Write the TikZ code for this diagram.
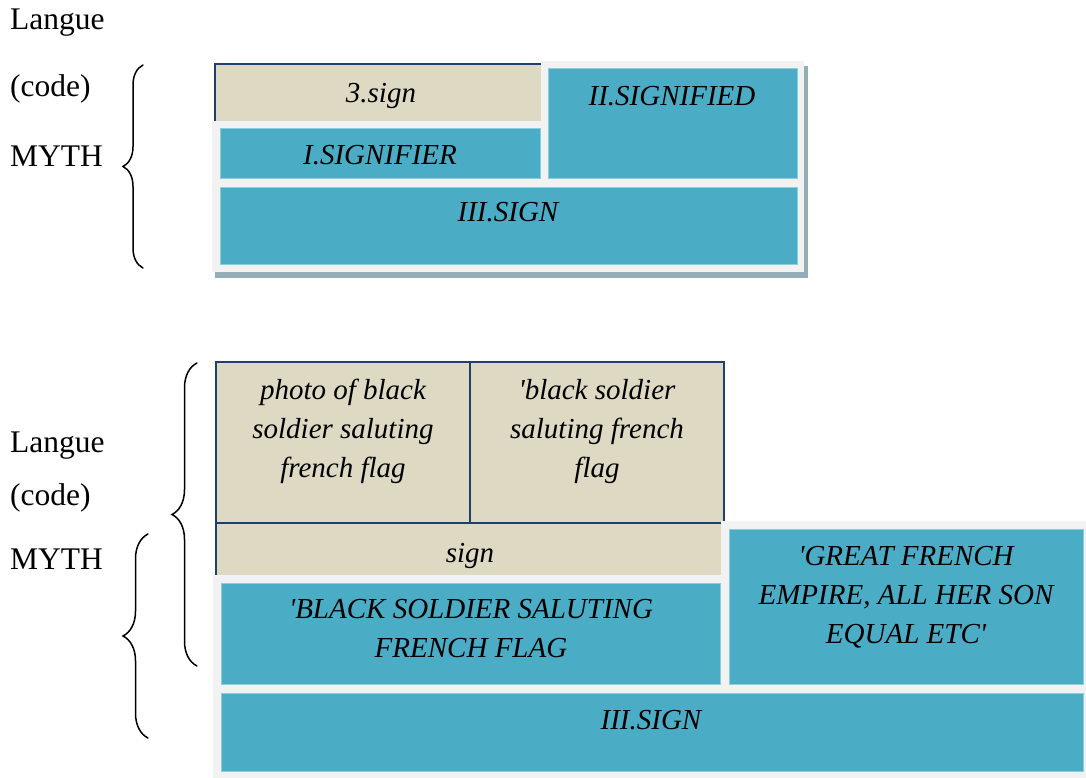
\documentclass[tikz,border=0pt]{standalone}
\usepackage{fontspec}
\setmainfont{Liberation Serif}
\usetikzlibrary{decorations.pathreplacing}
\definecolor{tealc}{HTML}{4BACC6}
\definecolor{tealedge}{HTML}{8CCDDD}
\definecolor{beigec}{HTML}{DDD9C3}
\definecolor{panelc}{HTML}{F2F2F2}
\definecolor{navyc}{HTML}{1F3F6E}
\definecolor{shadec}{HTML}{93AEB9}
\newcommand{\sq}{\textquotesingle}
\begin{document}
\begin{tikzpicture}[x=1pt,y=-1pt,
  rbox/.style={inner sep=0pt,outer sep=0pt,anchor=north west,rectangle},
  shadowbox/.style={rbox,fill=shadec},
  panelbox/.style={rbox,fill=panelc},
  beigefill/.style={rbox,fill=beigec},
  beigebox/.style={rbox,fill=beigec,draw=navyc,line width=1.8pt},
  navyline/.style={draw=navyc,line width=1.8pt},
  tealbox/.style={rbox,fill=tealc,draw=tealedge,line width=0.8pt},
  lbl/.style={inner sep=0pt,anchor=base west,font=\fontsize{31.5}{31.5}\selectfont},
  itx/.style={inner sep=0pt,anchor=base,align=center,font=\fontsize{29}{39}\selectfont\itshape},
  bracestyle/.style={decorate,line width=1.5pt,line cap=round}
]
\useasboundingbox (0,0) rectangle (1086,778);

% ---------- top diagram ----------
\node[shadowbox,minimum width=593pt,minimum height=212pt] (shd) at (215,66) {};
\node[beigefill,minimum width=326pt,minimum height=57pt] (s3) at (215,64) {};
\draw[navyline] (s3.south west) -- (s3.north west) -- (s3.north east);
\node[panelbox,minimum width=263pt,minimum height=126pt] (p2) at (541,61) {};
\node[panelbox,minimum width=592pt,minimum height=151pt] (p1) at (212,121) {};
\node[tealbox,minimum width=320pt,minimum height=50pt] (sig1) at (220,128) {};
\node[tealbox,minimum width=249pt,minimum height=110pt] (sig2) at (548,68) {};
\node[tealbox,minimum width=577pt,minimum height=77pt] (sig3) at (220,187) {};

\node[itx] (t3) at (381,103) {3.sign};
\node[itx] (t2) at (672,106) {II.SIGNIFIED};
\node[itx] (t1) at (380,165) {I.SIGNIFIER};
\node[itx] (tiii) at (508,222) {III.SIGN};

\node[lbl] (lang1) at (10,30) {Langue};
\node[lbl] (code1) at (10,97) {(code)};
\node[lbl] (myth1) at (10,167) {MYTH};

\coordinate (b1s) at (143,268);
\coordinate (b1e) at (143,65);
\draw[bracestyle,decoration={brace,amplitude=20pt}] (b1s) -- (b1e);

% ---------- bottom diagram ----------
\node[beigebox,minimum width=254pt,minimum height=161pt] (photo) at (216,362) {};
\node[beigebox,minimum width=254pt,minimum height=161pt] (bsf) at (470,362) {};
\node[beigebox,minimum width=508pt,minimum height=53pt] (sgn) at (216,523) {};
\node[panelbox,minimum width=365pt,minimum height=257pt] (p4) at (721,521) {};
\node[panelbox,minimum width=873pt,minimum height=203pt] (p3) at (213,575) {};
\node[tealbox,minimum width=499pt,minimum height=101pt] (bss) at (221,583) {};
\node[tealbox,minimum width=354pt,minimum height=155pt] (gfe) at (729,529) {};
\node[tealbox,minimum width=862pt,minimum height=78pt] (sig4) at (221,693) {};

\node[itx] (tphoto) at (343,477) {photo of black\\soldier saluting\\french flag};
\node[itx] (tbsf) at (597,477) {\sq black soldier\\saluting french\\flag};
\node[itx] (tsgn) at (470,562) {sign};
\node[itx] (tbss) at (471,657) {\sq BLACK SOLDIER SALUTING\\FRENCH FLAG};
\node[itx] (tgfe) at (906,643) {\sq GREAT FRENCH\\EMPIRE, ALL HER SON\\EQUAL ETC\sq};
\node[itx] (tsig4) at (651,729) {III.SIGN};

\node[lbl] (lang2) at (10,452) {Langue};
\node[lbl] (code2) at (10,505) {(code)};
\node[lbl] (myth2) at (10,569) {MYTH};

\coordinate (b2s) at (197,666);
\coordinate (b2e) at (197,363);
\draw[bracestyle,decoration={brace,amplitude=25pt}] (b2s) -- (b2e);
\coordinate (b3s) at (148,738);
\coordinate (b3e) at (148,534);
\draw[bracestyle,decoration={brace,amplitude=25pt}] (b3s) -- (b3e);
\end{tikzpicture}
\end{document}
